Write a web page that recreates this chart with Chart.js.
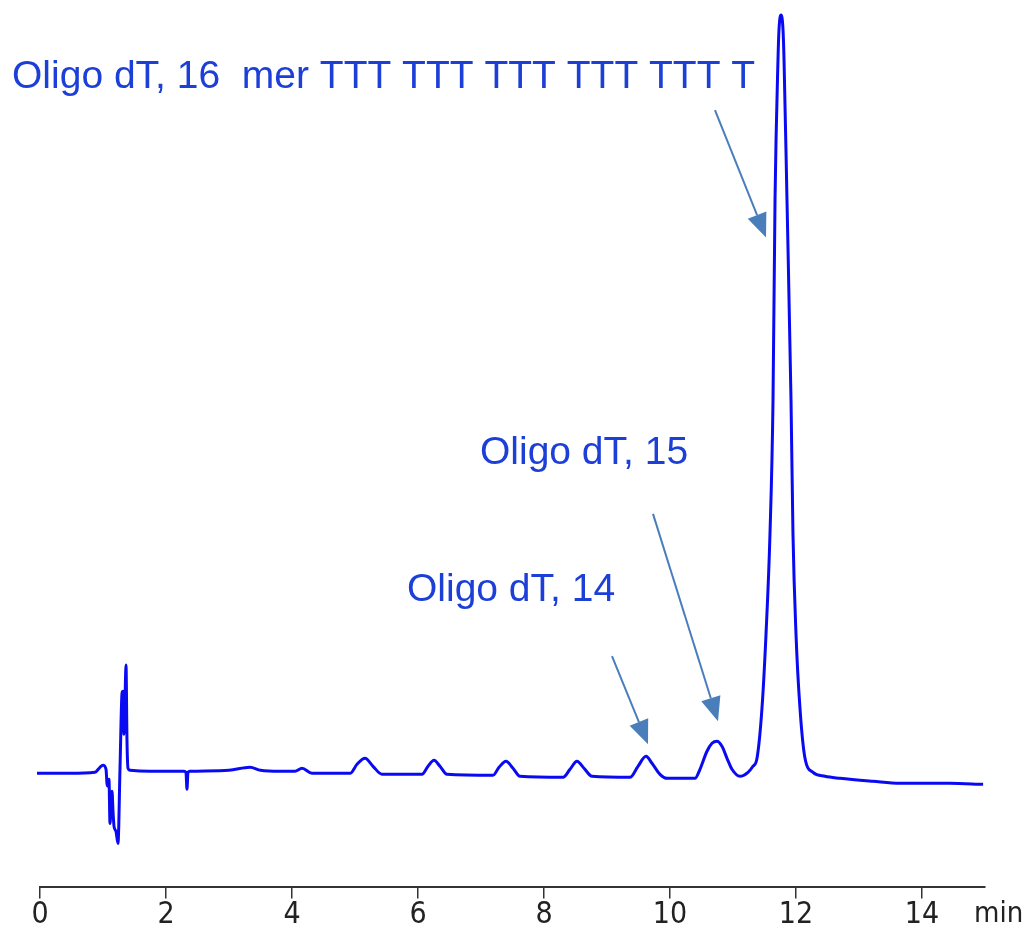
<!DOCTYPE html>
<html>
<head>
<meta charset="utf-8">
<script src="https://cdn.jsdelivr.net/npm/chart.js@4/dist/chart.umd.min.js"></script>
<style>
  html, body { margin: 0; padding: 0; background: #fff; }
  #wrap { width: 1027px; height: 932px; }
</style>
</head>
<body>
<div id="wrap"><canvas id="chromChart"></canvas></div>
<script>
// retention time (min) and detector signal (arbitrary units)
const times = [
  -0.048, 0.476, 0.873, 0.952, 1.000, 1.048, 1.063, 1.079, 1.095, 1.111,
  1.127, 1.143, 1.159, 1.175, 1.206, 1.238, 1.270, 1.302, 1.317, 1.333,
  1.349, 1.365, 1.381, 1.397, 1.429, 1.746, 2.286, 2.317, 2.333, 2.349,
  2.381, 3.000, 3.333, 3.500, 3.810, 4.048, 4.159, 4.317, 4.921, 5.032,
  5.159, 5.286, 5.429, 6.063, 6.159, 6.254, 6.349, 6.460, 7.190, 7.286,
  7.397, 7.508, 7.619, 8.302, 8.413, 8.524, 8.635, 8.762, 9.365, 9.492,
  9.619, 9.714, 9.841, 9.952, 10.397, 10.476, 10.587, 10.667, 10.746, 10.825,
  10.905, 10.984, 11.111, 11.238, 11.317, 11.381, 11.460, 11.524, 11.587, 11.635,
  11.667, 11.714, 11.730, 11.762, 11.794, 11.810, 11.857, 11.921, 11.952, 12.000,
  12.063, 12.143, 12.270, 12.460, 12.698, 13.222, 13.650, 14.440, 14.970
];
const signal = [
  113, 113, 114, 119, 121, 117, 103, 100, 107, 63,
  80, 95, 75, 60, 55, 43, 118, 193, 195, 152,
  185, 221, 145, 118, 116, 115, 115, 114, 97, 114,
  115, 116, 119, 116, 115, 115, 118, 113, 113, 122,
  128, 120, 112, 112, 120, 126, 120, 112, 111, 119,
  125, 118, 110, 109, 117, 125, 118, 110, 109, 120,
  130, 123, 112, 108, 108, 117, 135, 143, 145, 140,
  128, 117, 110, 114, 120, 128, 178, 252, 352, 485,
  685, 825, 855, 870, 855, 825, 685, 485, 352, 252,
  178, 128, 114, 110, 108, 105, 103, 103, 102
];

const xTicks = [0, 2, 4, 6, 8, 10, 12, 14];
const axisUnit = 'min';

// peak labels: text, left x (min), baseline y (signal units)
const labelTexts = ['Oligo dT, 16  mer TTT TTT TTT TTT TTT T', 'Oligo dT, 15', 'Oligo dT, 14'];
const labelX = [-0.444, 6.984, 5.825];
const labelY = [797, 422, 285];

// arrows: start (x,y) -> tip (x,y)
const arrowFromX = [10.714, 9.730, 9.079];
const arrowFromY = [775, 372, 230];
const arrowToX = [11.524, 10.762, 9.651];
const arrowToY = [648, 165, 142];

const LINE_BLUE = '#0a0af2';
const TEXT_BLUE = '#1c3fd8';
const ARROW_BLUE = '#4a7ebb';
const TICK_FONT = '"Liberation Sans Narrow", "DejaVu Sans Condensed", Arial, sans-serif';

const annotations = {
  id: 'annotations',
  afterDatasetsDraw(chart) {
    const { ctx, scales: { x, y } } = chart;
    ctx.save();
    // labels
    ctx.fillStyle = TEXT_BLUE;
    ctx.font = '39px "Liberation Sans", Arial, sans-serif';
    ctx.textBaseline = 'alphabetic';
    ctx.textAlign = 'left';
    labelTexts.forEach((txt, i) => {
      ctx.fillText(txt, x.getPixelForValue(labelX[i]), y.getPixelForValue(labelY[i]));
    });
    // arrows
    ctx.strokeStyle = ARROW_BLUE;
    ctx.fillStyle = ARROW_BLUE;
    ctx.lineWidth = 2;
    for (let i = 0; i < arrowFromX.length; i++) {
      const x0 = x.getPixelForValue(arrowFromX[i]), y0 = y.getPixelForValue(arrowFromY[i]);
      const x1 = x.getPixelForValue(arrowToX[i]), y1 = y.getPixelForValue(arrowToY[i]);
      const ang = Math.atan2(y1 - y0, x1 - x0);
      const headLen = 24, headHalf = 10;
      const bx = x1 - headLen * Math.cos(ang), by = y1 - headLen * Math.sin(ang);
      ctx.beginPath();
      ctx.moveTo(x0, y0);
      ctx.lineTo(bx, by);
      ctx.stroke();
      ctx.beginPath();
      ctx.moveTo(x1, y1);
      ctx.lineTo(bx + headHalf * Math.sin(ang), by - headHalf * Math.cos(ang));
      ctx.lineTo(bx - headHalf * Math.sin(ang), by + headHalf * Math.cos(ang));
      ctx.closePath();
      ctx.fill();
    }
    // axis unit, next to the last tick label
    ctx.fillStyle = '#222';
    ctx.font = '29px ' + TICK_FONT;
    ctx.textBaseline = 'middle';
    ctx.textAlign = 'left';
    ctx.fillText(axisUnit, x.right - 11, x.bottom - 18);
    ctx.restore();
  }
};

new Chart(document.getElementById('chromChart'), {
  type: 'line',
  data: {
    datasets: [{
      data: times.map((t, i) => ({ x: t, y: signal[i] })),
      borderColor: LINE_BLUE,
      borderWidth: 3,
      pointRadius: 0,
      fill: false,
      cubicInterpolationMode: 'monotone',
      clip: false
    }]
  },
  options: {
    responsive: true,
    maintainAspectRatio: false,
    animation: false,
    layout: { padding: { top: 10, left: 40, right: 42, bottom: 0 } },
    plugins: { legend: { display: false }, tooltip: { enabled: false } },
    scales: {
      x: {
        type: 'linear',
        min: 0,
        max: 15,
        afterBuildTicks: (scale) => {
          scale.ticks = xTicks.map(v => ({ value: v }));
        },
        ticks: {
          color: '#222',
          padding: 4,
          maxRotation: 0,
          font: { family: TICK_FONT, size: 30, lineHeight: 0.85 }
        },
        grid: {
          display: true,
          drawOnChartArea: false,
          drawTicks: true,
          tickLength: 12,
          color: '#333',
          lineWidth: 1.5
        },
        border: { display: true, color: '#333', width: 2 }
      },
      y: {
        display: false,
        min: 0,
        max: 875
      }
    }
  },
  plugins: [annotations]
});
</script>
</body>
</html>
